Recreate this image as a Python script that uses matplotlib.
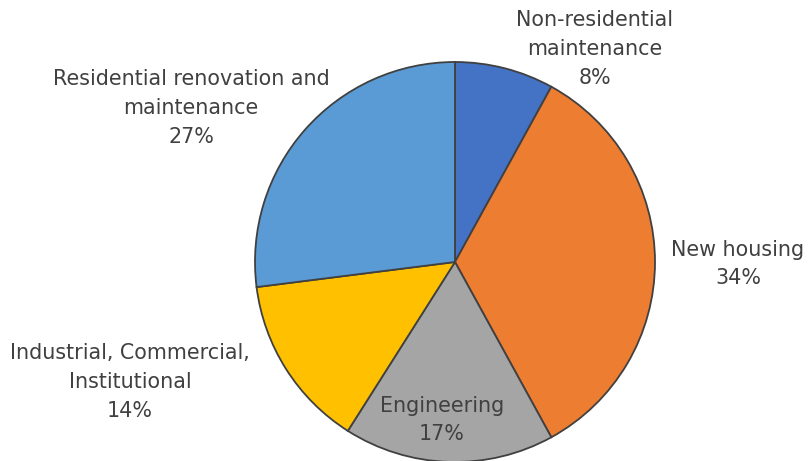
import matplotlib.pyplot as plt

# construction spending share by sector (clockwise from top)
sectors = ['Non-residential\nmaintenance', 'New housing', 'Engineering',
           'Industrial, Commercial,\nInstitutional', 'Residential renovation and\nmaintenance']
shares = [8, 34, 17, 14, 27]
colors = ['#4472C4', '#ED7D31', '#A5A5A5', '#FFC000', '#5B9BD5']

# label centres in pie units (radius = 1)
label_pos = [(0.70, 1.065), (1.415, -0.01), (-0.065, -0.79), (-1.625, -0.60), (-1.32, 0.77)]

fig = plt.figure(figsize=(8.09, 4.61), dpi=100)
ax = fig.add_axes([255 / 809, -1 / 461, 400 / 809, 400 / 461])

ax.pie(shares, colors=colors, startangle=90, counterclock=False,
       wedgeprops={'edgecolor': '#404040', 'linewidth': 1.3})
ax.set_xlim(-1, 1)
ax.set_ylim(-1, 1)
ax.set_aspect('equal')
ax.axis('off')

for name, val, (x, y) in zip(sectors, shares, label_pos):
    ax.text(x, y, f'{name}\n{val}%', ha='center', va='center', fontsize=14.9,
            color='#404040', linespacing=1.55, clip_on=False)

fig.savefig('out.png', dpi=100)
